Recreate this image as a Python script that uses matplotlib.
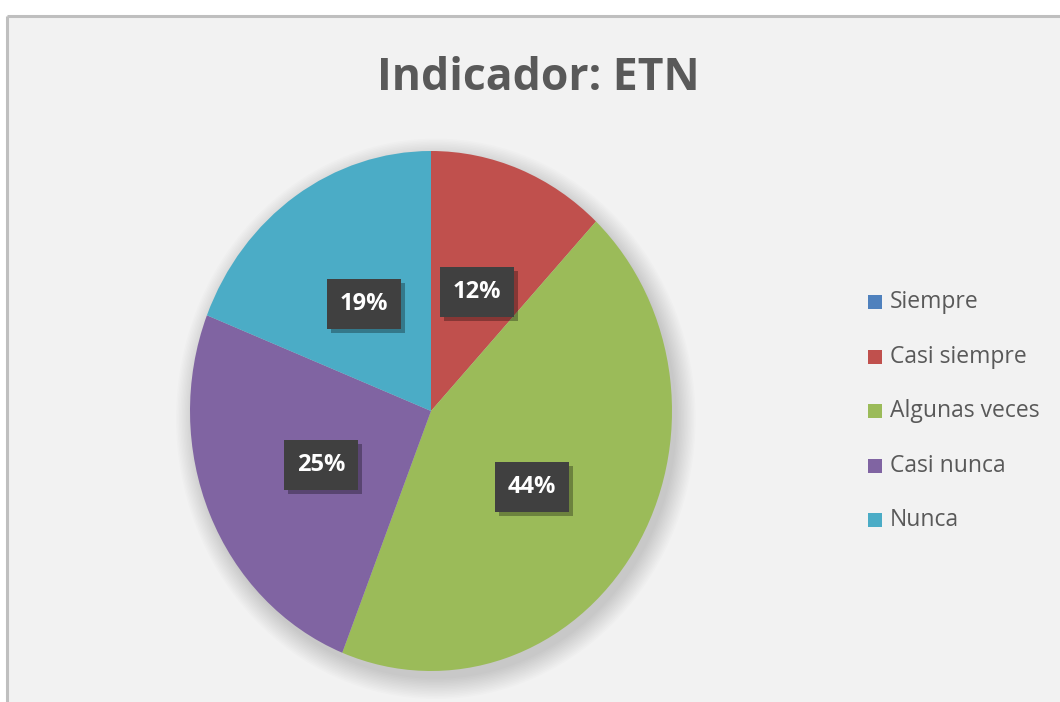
import matplotlib
matplotlib.use("Agg")
import matplotlib.pyplot as plt
import matplotlib.patheffects as pe
from matplotlib.patches import Ellipse, Rectangle

categories = ["Siempre", "Casi siempre", "Algunas veces", "Casi nunca", "Nunca"]
values = [0, 12, 44, 25, 19]
colors = ["#4F81BD", "#C0504D", "#9BBB59", "#8064A2", "#4BACC6"]
title = "Indicador: ETN"

W, H = 1060, 702
fig = plt.figure(figsize=(W / 100, H / 100), dpi=100)
fig.patch.set_facecolor("white")

# chart area background with grey frame on top/left
bg = fig.add_axes([0, 0, 1, 1], zorder=0)
bg.set_xlim(0, W)
bg.set_ylim(H, 0)
bg.axis("off")
bg.add_patch(Rectangle((7, 16), W, H, facecolor="#F2F2F2", edgecolor="none"))
bg.plot([7, W], [16, 16], color="#BFBFBF", lw=2.2, solid_capstyle="butt")
bg.plot([7, 7], [16, H], color="#BFBFBF", lw=2.2, solid_capstyle="butt")

fam = ["Open Sans", "DejaVu Sans"]
bg.text(538, 78, title, ha="center", va="center", fontsize=32,
        fontweight="bold", color="#595959", family=fam)

# pie axes (pie slightly taller than wide)
x0, x1, y0, y1 = 190, 672, 151, 671
ax = fig.add_axes([x0 / W, 1 - y1 / H, (x1 - x0) / W, (y1 - y0) / H], zorder=1)
ax.patch.set_visible(False)

# soft shadow under the pie
for i in range(14):
    s = 1.0 + 0.006 * i
    ax.add_patch(Ellipse((0.02, -0.03), 2 * s, 2 * s, facecolor="#000000",
                         alpha=0.012, edgecolor="none", zorder=0, clip_on=False))

wedges, _ = ax.pie(values, colors=colors, startangle=90, counterclock=False,
                   radius=1.0, wedgeprops=dict(linewidth=0))
for w in wedges:
    w.set_zorder(1)
ax.set_aspect("auto")
ax.set_xlim(-1, 1)
ax.set_ylim(-1, 1)
ax.axis("off")

# overlay for data labels and legend
top = fig.add_axes([0, 0, 1, 1], zorder=2)
top.set_xlim(0, W)
top.set_ylim(H, 0)
top.axis("off")
top.patch.set_visible(False)

label_pos = {1: (477, 292), 2: (532, 487), 3: (321, 465), 4: (364, 304)}
for i, v in enumerate(values):
    if v == 0:
        continue
    px, py = label_pos[i]
    t = top.text(px, py, f"{v}%", ha="center", va="center", fontsize=17,
                 fontweight="bold", color="white", family=fam, zorder=5,
                 bbox=dict(boxstyle="square,pad=0.55", fc="#404040", ec="none"))
    t.get_bbox_patch().set_path_effects(
        [pe.withSimplePatchShadow(offset=(3, -3), shadow_rgbFace="black", alpha=0.3)])

# legend
leg_y = [302, 357, 411, 466, 520]
for c, name, yy in zip(colors, categories, leg_y):
    top.add_patch(Rectangle((868, yy - 7), 14, 14, facecolor=c, edgecolor="none"))
    top.text(890, yy, name, ha="left", va="center", fontsize=16.5,
             color="#595959", family=fam)

fig.savefig("out.png", dpi=100)
